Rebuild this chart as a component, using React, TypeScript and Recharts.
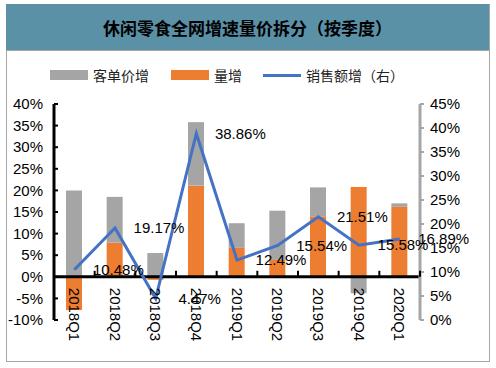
import React from "react";
import {
  Bar,
  ComposedChart,
  LabelList,
  Line,
  ReferenceLine,
  XAxis,
  YAxis,
} from "recharts";

const QUARTERS = [
  "2018Q1",
  "2018Q2",
  "2018Q3",
  "2018Q4",
  "2019Q1",
  "2019Q2",
  "2019Q3",
  "2019Q4",
  "2020Q1",
];
// 量增 (volume growth, %)
const VOLUME = [-7.7, 7.9, -0.7, 21.1, 6.7, 3.9, 14.0, 20.8, 16.2];
// 客单价增 (price per order growth, %)
const PRICE = [20.0, 10.6, 5.5, 14.7, 5.7, 11.4, 6.7, -3.8, 0.8];
// 销售额增（右） (sales growth, %)
const SALES = [10.48, 19.17, 4.47, 38.86, 12.49, 15.54, 21.51, 15.58, 16.89];

const LEFT_TICKS = [-10, -5, 0, 5, 10, 15, 20, 25, 30, 35, 40];
const RIGHT_TICKS = [0, 5, 10, 15, 20, 25, 30, 35, 40, 45];

const W = 496;
const H = 368;
const PLOT_LEFT = 54;
const PLOT_RIGHT = 420;
const PLOT_TOP = 104;
const PLOT_H = 216;
const BAND = (PLOT_RIGHT - PLOT_LEFT) / QUARTERS.length;
const ZERO_Y = PLOT_TOP + (PLOT_H * 40) / 50;

const NUM_FONT = "'Liberation Sans', Arial, sans-serif";
const CJK_FONT = "'Noto Sans CJK SC', 'Noto Sans', sans-serif";

const GRAY = "#A5A5A5";
const ORANGE = "#ED7D31";
const BLUE = "#4472C4";

const data = QUARTERS.map((q, i) => ({
  q,
  volume: VOLUME[i],
  price: PRICE[i],
  sales: SALES[i],
}));

function LeftTick(props: any) {
  const { x, y, payload } = props;
  return (
    <g>
      <line x1={x + 11} x2={x + 15} y1={y} y2={y} stroke="#000" strokeWidth={2} />
      <text
        x={x}
        y={y}
        dy="0.35em"
        textAnchor="end"
        fontSize={15}
        fontFamily={NUM_FONT}
        fill="#000"
      >
        {payload.value}%
      </text>
    </g>
  );
}

function QuarterTick(props: any) {
  const { x, payload, index } = props;
  const left = x - BAND / 2;
  return (
    <g>
      <line x1={left} x2={left} y1={ZERO_Y} y2={ZERO_Y - 6} stroke="#000" strokeWidth={2} />
      {index === QUARTERS.length - 1 && (
        <line
          x1={x + BAND / 2}
          x2={x + BAND / 2}
          y1={ZERO_Y}
          y2={ZERO_Y - 6}
          stroke="#000"
          strokeWidth={2}
        />
      )}
      <g transform={`translate(${x}, ${ZERO_Y + 11}) rotate(90)`}>
        <text
          x={0}
          y={0}
          dy="0.35em"
          textAnchor="start"
          fontSize={15}
          fontFamily={NUM_FONT}
          fill="#000"
        >
          {payload.value}
        </text>
      </g>
    </g>
  );
}

function SalesLabel(props: any) {
  const { x, y, value } = props;
  return (
    <text
      x={x + 44}
      y={y}
      dy="0.35em"
      textAnchor="middle"
      fontSize={15}
      fontFamily={NUM_FONT}
      fill="#000"
    >
      {Number(value).toFixed(2)}%
    </text>
  );
}

function LegendItem({
  left,
  color,
  label,
  line,
}: {
  left: number;
  color: string;
  label: string;
  line?: boolean;
}) {
  return (
    <div
      style={{
        position: "absolute",
        left,
        top: 66,
        height: 18,
        display: "flex",
        alignItems: "center",
        gap: 5,
      }}
    >
      <span
        style={{
          display: "inline-block",
          width: 38,
          height: line ? 3 : 10,
          background: color,
        }}
      />
      <span style={{ fontSize: 14, fontFamily: CJK_FONT, color: "#222", whiteSpace: "nowrap" }}>
        {label}
      </span>
    </div>
  );
}

export default function App() {
  return (
    <div
      style={{
        position: "absolute",
        left: 0,
        top: 0,
        width: W,
        height: H,
        background: "#fff",
        overflow: "hidden",
      }}
    >
      <div
        style={{
          position: "absolute",
          left: 6,
          top: 4,
          width: 482,
          height: 357,
          border: "1px solid #A6A6A6",
          borderTop: "none",
        }}
      />
      <div
        style={{
          position: "absolute",
          left: 6,
          top: 4,
          width: 483,
          height: 46,
          background: "#5B91A7",
          borderBottom: "1px solid #A6A6A6",
          display: "flex",
          alignItems: "center",
          justifyContent: "center",
          fontFamily: CJK_FONT,
          fontWeight: 700,
          fontSize: 17,
          color: "#000",
        }}
      >
        休闲零食全网增速量价拆分（按季度）
      </div>

      <LegendItem left={50} color={GRAY} label="客单价增" />
      <LegendItem left={171} color={ORANGE} label="量增" />
      <LegendItem left={263} color={BLUE} label="销售额增（右）" line />

      <div style={{ position: "absolute", left: 0, top: 0 }}>
        <ComposedChart
          width={W}
          height={H}
          data={data}
          stackOffset="sign"
          barSize={16}
          margin={{ top: PLOT_TOP, right: 16, left: 4, bottom: 18 }}
        >
          <XAxis
            dataKey="q"
            interval={0}
            axisLine={false}
            tickLine={false}
            height={30}
            tick={<QuarterTick />}
          />
          <YAxis
            yAxisId="left"
            domain={[-10, 40]}
            ticks={LEFT_TICKS}
            width={50}
            tickSize={0}
            tickMargin={11}
            tickLine={false}
            axisLine={{ stroke: "#000", strokeWidth: 3 }}
            tick={<LeftTick />}
            interval={0}
          />
          <YAxis
            yAxisId="right"
            orientation="right"
            domain={[0, 45]}
            ticks={RIGHT_TICKS}
            width={60}
            tickSize={4}
            tickMargin={6}
            interval={0}
            axisLine={{ stroke: "#A6A6A6", strokeWidth: 3 }}
            tickLine={{ stroke: "#A6A6A6", strokeWidth: 2 }}
            tick={{ fontSize: 15, fontFamily: NUM_FONT, fill: "#000" }}
            tickFormatter={(v: number) => `${v}%`}
          />
          <Bar
            yAxisId="left"
            dataKey="volume"
            stackId="a"
            fill={ORANGE}
            isAnimationActive={false}
          />
          <Bar
            yAxisId="left"
            dataKey="price"
            stackId="a"
            fill={GRAY}
            isAnimationActive={false}
          />
          <ReferenceLine yAxisId="left" y={0} stroke="#000" strokeWidth={3} />
          <Line
            yAxisId="right"
            dataKey="sales"
            stroke={BLUE}
            strokeWidth={3}
            dot={false}
            isAnimationActive={false}
          >
            <LabelList dataKey="sales" content={<SalesLabel />} />
          </Line>
        </ComposedChart>
      </div>
    </div>
  );
}
